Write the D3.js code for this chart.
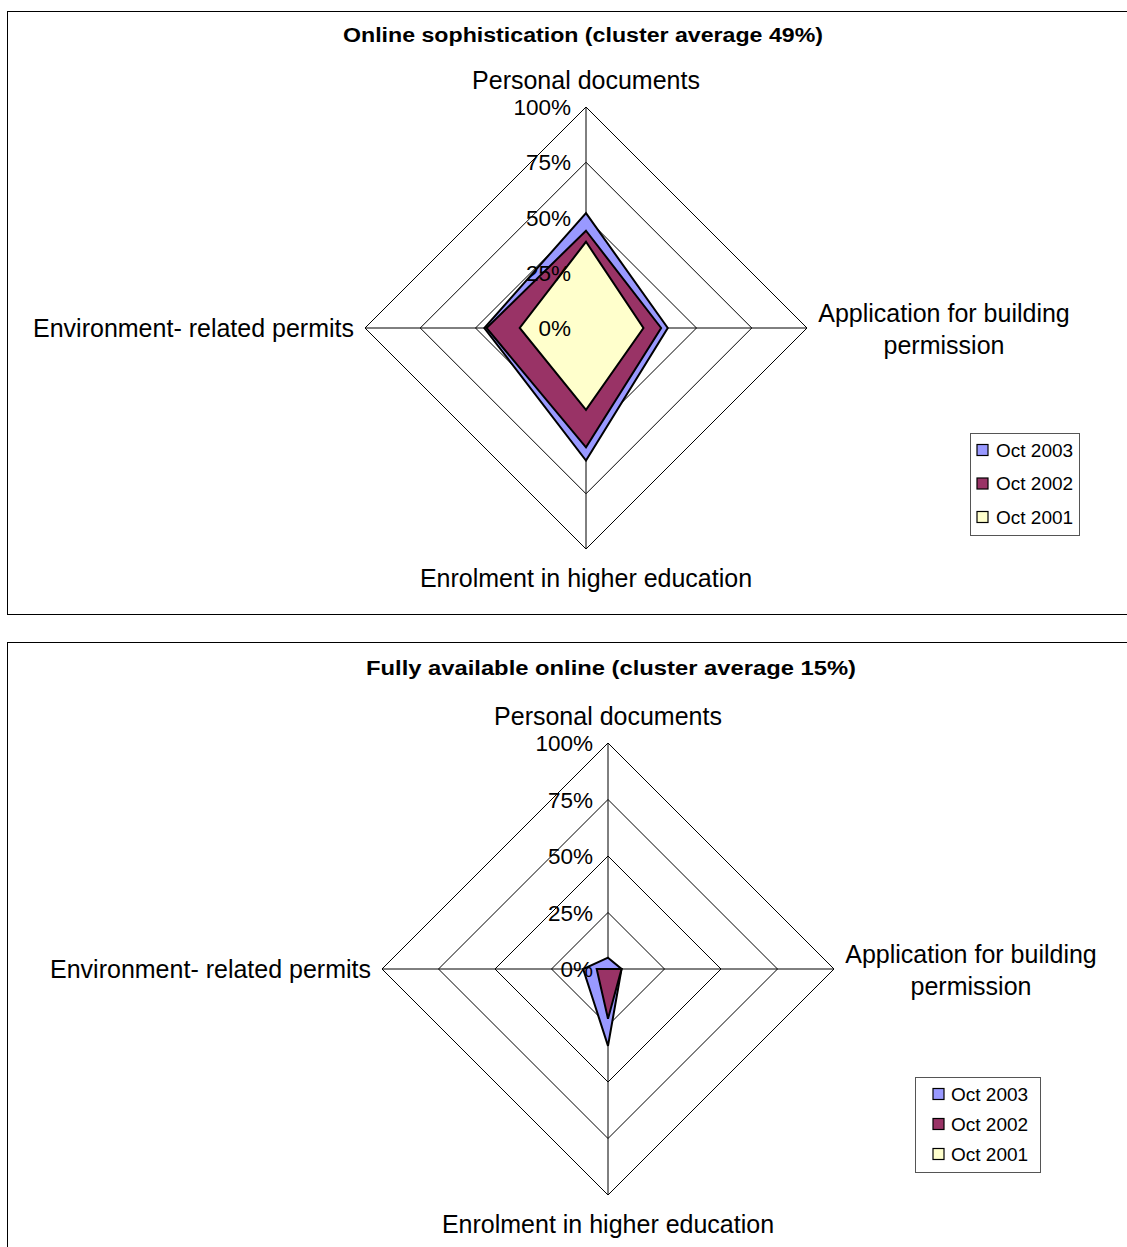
<!DOCTYPE html>
<html>
<head>
<meta charset="utf-8">
<script src="https://cdn.jsdelivr.net/npm/d3@7"></script>
<style>
  body { margin: 0; background: #fff; }
  svg { display: block; font-family: "Liberation Sans", Arial, sans-serif; }
</style>
</head>
<body>
<svg id="chart" width="1127" height="1247"></svg>
<script>
/* Two radar charts — eGovernment cluster scores by year. */

var categories = ["Personal documents", "Application for building permission", "Enrolment in higher education", "Environment- related permits"];
var seriesNames = ["Oct 2003", "Oct 2002", "Oct 2001"];
var seriesColors = ["#9999ff", "#993366", "#ffffcc"];
var ticks = [0, 25, 50, 75, 100];

// chart 1: online sophistication (values in %)
var sophistication2003 = [52, 37, 60, 46];
var sophistication2002 = [44, 34, 54, 45];
var sophistication2001 = [39, 26, 37, 30];

// chart 2: fully available online (values in %)
var fully2003 = [5, 6, 34, 11];
var fully2002 = [0, 6, 22, 5];
var fully2001 = [0, 0, 0, 0];

var svg = d3.select("#chart");

var panels = [
  {
    title: "Online sophistication (cluster average 49%)", titleW: 480, titleX: 583,
    box: { x: 7, y: 11, h: 603 },
    titleY: 42, cx: 586, cy: 328, r: 221,
    values: [sophistication2003, sophistication2002, sophistication2001],
    legend: { x: 970, y: 433, w: 109, h: 102, step: 33.5, sx: 7, tx: 26 }
  },
  {
    title: "Fully available online (cluster average 15%)", titleW: 490, titleX: 611,
    box: { x: 7, y: 642, h: 640 },
    titleY: 675, cx: 608, cy: 969, r: 226,
    values: [fully2003, fully2002, fully2001],
    legend: { x: 915, y: 1077, w: 125, h: 95, step: 30, sx: 18, tx: 36 }
  }
];

panels.forEach(function (p) {
  var g = svg.append("g");

  g.append("rect")
    .attr("x", p.box.x + 0.5).attr("y", p.box.y + 0.5)
    .attr("width", 1200).attr("height", p.box.h)
    .attr("fill", "#fff").attr("stroke", "#000").attr("stroke-width", 1);

  g.append("text")
    .attr("x", p.titleX).attr("y", p.titleY)
    .attr("text-anchor", "middle")
    .attr("font-size", 20).attr("font-weight", "bold")
    .attr("textLength", p.titleW).attr("lengthAdjust", "spacingAndGlyphs")
    .text(p.title);

  var r = d3.scaleLinear().domain([0, 100]).range([0, p.r]);
  var angle = d3.scalePoint().domain(categories).range([0, 2 * Math.PI * 3 / 4]);

  var plot = g.append("g").attr("transform", "translate(" + p.cx + "," + p.cy + ")");

  var radial = d3.lineRadial()
    .angle(function (d, i) { return angle(categories[i]); })
    .radius(function (d) { return r(d); })
    .curve(d3.curveLinearClosed);

  // grid rings
  ticks.slice(1).forEach(function (t) {
    plot.append("path")
      .attr("d", radial(categories.map(function () { return t; })))
      .attr("fill", "none").attr("stroke", "#000").attr("stroke-width", 1);
  });

  // spokes
  categories.forEach(function (c) {
    var a = angle(c);
    plot.append("line")
      .attr("x1", 0).attr("y1", 0)
      .attr("x2", Math.sin(a) * r(100)).attr("y2", -Math.cos(a) * r(100))
      .attr("stroke", "#000").attr("stroke-width", 1);
  });

  // series areas, oldest on top
  p.values.forEach(function (vals, i) {
    if (d3.max(vals) === 0) return;
    plot.append("path")
      .attr("d", radial(vals))
      .attr("fill", seriesColors[i])
      .attr("stroke", "#000").attr("stroke-width", 2)
      .attr("stroke-linejoin", "miter");
  });

  // tick labels along the top spoke
  ticks.forEach(function (t) {
    plot.append("text")
      .attr("x", -15).attr("y", -r(t) + 8)
      .attr("text-anchor", "end")
      .attr("font-size", 22.5)
      .text(t + "%");
  });

  // category labels
  plot.append("text").attr("x", 0).attr("y", -r(100) - 18)
    .attr("text-anchor", "middle").attr("font-size", 25).text(categories[0]);
  var right = plot.append("text").attr("text-anchor", "middle").attr("font-size", 25);
  right.append("tspan").attr("x", r(100) + 137).attr("y", -6).text("Application for building");
  right.append("tspan").attr("x", r(100) + 137).attr("y", 26).text("permission");
  plot.append("text").attr("x", 0).attr("y", r(100) + 38)
    .attr("text-anchor", "middle").attr("font-size", 25).text(categories[2]);
  plot.append("text").attr("x", -r(100) - 11).attr("y", 9)
    .attr("text-anchor", "end").attr("font-size", 25).text(categories[3]);

  // legend
  var L = p.legend;
  var lg = g.append("g").attr("transform", "translate(" + L.x + "," + L.y + ")");
  lg.append("rect")
    .attr("x", 0.5).attr("y", 0.5).attr("width", L.w).attr("height", L.h)
    .attr("fill", "#fff").attr("stroke", "#555").attr("stroke-width", 1);
  seriesNames.forEach(function (s, i) {
    var yy = L.h / 2 + (i - 1) * L.step - 1;
    lg.append("rect")
      .attr("x", L.sx).attr("y", yy - 5).attr("width", 11).attr("height", 11)
      .attr("fill", seriesColors[i]).attr("stroke", "#000").attr("stroke-width", 1.2);
    lg.append("text")
      .attr("x", L.tx).attr("y", yy + 7)
      .attr("font-size", 19).text(s);
  });
});
</script>
</body>
</html>
